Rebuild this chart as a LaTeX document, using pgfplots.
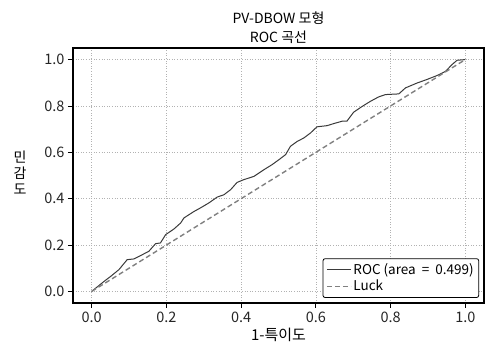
\documentclass[border=0pt]{standalone}
\usepackage{pgfplots}
\pgfplotsset{compat=1.18}
\usepackage{fontspec}
\setmainfont{Noto Sans CJK KR}
\definecolor{rocc}{HTML}{3A3A3A}
\definecolor{luckc}{HTML}{808080}
\begin{document}
\begin{tikzpicture}
\begin{axis}[
  at={(0,0)}, anchor=south west,
  scale only axis,
  width=411pt, height=255pt,
  xmin=-0.05, xmax=1.05, ymin=-0.05, ymax=1.05,
  xtick={0,0.2,0.4,0.6,0.8,1.0},
  ytick={0,0.2,0.4,0.6,0.8,1.0},
  xticklabel style={/pgf/number format/fixed,/pgf/number format/fixed zerofill,/pgf/number format/precision=1},
  yticklabel style={/pgf/number format/fixed,/pgf/number format/fixed zerofill,/pgf/number format/precision=1},
  /pgf/number format/assume math mode=true,
  tick label style={font=\fontsize{14.5}{16}\selectfont, text=black!85},
  tick align=outside,
  tick pos=left,
  major tick length=5pt,
  every tick/.style={black, line width=0.8pt},
  axis line style={black, line width=1.4pt},
  grid=major,
  major grid style={line width=0.6pt, dotted, black!30},
  title={PV-DBOW 모형\\ROC 곡선},
  every axis title/.style={at={(0.5,1)}, anchor=south, inner sep=0pt, yshift=4pt, font=\fontsize{14}{19}\selectfont, align=center},
  xlabel={1-특이도},
  every axis x label/.style={at={(0.5,0)}, anchor=north, inner sep=0pt, yshift=-25pt, font=\fontsize{15}{17}\selectfont},
  ylabel={민\\감\\도},
  every axis y label/.style={at={(0,0.5)}, anchor=center, inner sep=0pt, xshift=-53pt, yshift=3pt, font=\fontsize{14}{16}\selectfont, align=center},
  legend style={font=\fontsize{13.5}{15}\selectfont, draw=black, rounded corners=2pt, line width=0.8pt, inner sep=3pt, row sep=0pt, at={(0.988,0.02)}, anchor=south east},
  legend image code/.code={\draw[mark repeat=2,mark phase=2,#1] plot coordinates {(0pt,0pt) (12pt,0pt) (24pt,0pt)};},
  legend cell align=left,
]
\addplot[rocc, line width=1pt] coordinates {
(0,0) (0.033,0.043) (0.051,0.065) (0.073,0.094) (0.095,0.137) (0.113,0.140)
(0.135,0.158) (0.153,0.173) (0.171,0.206) (0.184,0.209) (0.198,0.245)
(0.220,0.269) (0.238,0.295) (0.247,0.317) (0.274,0.345) (0.291,0.360)
(0.314,0.382) (0.336,0.407) (0.354,0.417) (0.372,0.439) (0.389,0.470)
(0.407,0.482) (0.434,0.496) (0.461,0.525) (0.483,0.547) (0.501,0.568)
(0.519,0.590) (0.532,0.626) (0.550,0.647) (0.568,0.662) (0.586,0.684)
(0.603,0.710) (0.630,0.715) (0.648,0.724) (0.670,0.734) (0.683,0.734)
(0.701,0.773) (0.724,0.798) (0.746,0.820) (0.768,0.839) (0.786,0.849)
(0.822,0.852) (0.840,0.878) (0.871,0.899) (0.897,0.914) (0.924,0.931)
(0.947,0.949) (0.964,0.978) (0.978,0.997) (1.0,1.0)
};
\addlegendentry{ROC (area\ \ =\ \ 0.499)}
\addplot[luckc, line width=1.4pt, dash pattern=on 5pt off 3pt] coordinates {(0,0) (1,1)};
\addlegendentry{Luck}
\end{axis}
\pgfresetboundingbox
\path[use as bounding box] (-73pt,-44pt) rectangle (414pt,303pt);
\end{tikzpicture}
\end{document}
